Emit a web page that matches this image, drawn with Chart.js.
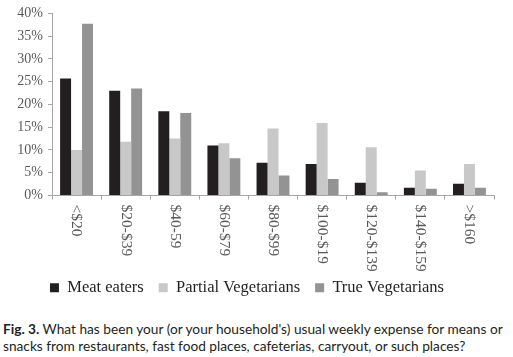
<!DOCTYPE html>
<html>
<head>
<meta charset="utf-8">
<script src="https://cdn.jsdelivr.net/npm/chart.js@4/dist/chart.umd.min.js"></script>
<style>
  html, body { margin: 0; padding: 0; background: #fff; }
  #wrap { position: relative; width: 513px; height: 308px; }
  #cap { font-family: Lato, "Noto Sans", sans-serif; font-size: 13.7px; line-height: 17px; color: #231f20; padding: 12px 0 0 3px; width: 512px; }
  #cap b { font-weight: bold; }
</style>
</head>
<body>
<div id="wrap"><canvas id="c" width="513" height="308"></canvas></div>
<div id="cap"><b>Fig. 3.</b> What has been your (or your household's) usual weekly expense for means or snacks from restaurants, fast food places, cafeterias, carryout, or such places?</div>
<script>
const categories = ["<$20", "$20-$39", "$40-59", "$60-$79", "$80-$99", "$100-$19", "$120-$139", "$140-$159", ">$160"];
const meatEaters = [25.7, 23.0, 18.5, 11.0, 7.2, 6.9, 2.8, 1.7, 2.6];
const partialVegetarians = [10.0, 11.8, 12.5, 11.5, 14.7, 15.9, 10.6, 5.5, 6.9];
const trueVegetarians = [37.7, 23.5, 18.1, 8.2, 4.4, 3.6, 0.7, 1.5, 1.7];
const yTicks = [0, 5, 10, 15, 20, 25, 30, 35, 40];

const serif = '"Liberation Serif", "DejaVu Serif", serif';
const axisColor = '#a6a6a6';
const textColor = '#595959';

const xLabelPlugin = {
  id: 'xLabels',
  afterDraw(chart) {
    const xs = chart.scales.x;
    const ctx = chart.ctx;
    ctx.save();
    ctx.font = '15.5px ' + serif;
    ctx.fillStyle = textColor;
    ctx.textAlign = 'left';
    ctx.textBaseline = 'middle';
    categories.forEach((lab, i) => {
      const x = xs.getPixelForValue(i);
      ctx.save();
      ctx.translate(x, xs.top + 9);
      ctx.rotate(Math.PI / 2);
      ctx.fillText(lab, 0, 0);
      ctx.restore();
    });
    ctx.restore();
  }
};

new Chart(document.getElementById('c'), {
  type: 'bar',
  data: {
    labels: categories,
    datasets: [
      { label: 'Meat eaters', data: meatEaters, backgroundColor: '#231f20' },
      { label: 'Partial Vegetarians', data: partialVegetarians, backgroundColor: '#c8c8c8' },
      { label: 'True Vegetarians', data: trueVegetarians, backgroundColor: '#939393' }
    ]
  },
  options: {
    responsive: false,
    animation: false,
    layout: { padding: { top: 12, right: 19, left: 0, bottom: 2 } },
    datasets: { bar: { categoryPercentage: 0.67, barPercentage: 1.0 } },
    plugins: {
      legend: {
        position: 'bottom',
        labels: {
          boxWidth: 9, boxHeight: 9, padding: 15,
          color: '#231f20',
          font: { family: serif, size: 16.5 }
        }
      },
      tooltip: { enabled: false }
    },
    scales: {
      x: {
        grid: { display: true, drawOnChartArea: false, drawTicks: true, tickLength: 4, color: axisColor, offset: true },
        border: { color: axisColor, width: 1 },
        ticks: { display: false },
        afterFit(s) { s.height = 69; }
      },
      y: {
        min: 0, max: 40,
        afterBuildTicks(s) { s.ticks = yTicks.map(v => ({ value: v })); },
        grid: { display: true, drawOnChartArea: false, drawTicks: true, tickLength: 4, color: axisColor },
        border: { color: axisColor, width: 1 },
        ticks: {
          color: textColor, padding: 5,
          font: { family: serif, size: 14 },
          callback: v => v + '%'
        },
        afterFit(s) { s.width = 52; }
      }
    }
  },
  plugins: [xLabelPlugin]
});
</script>
</body>
</html>
